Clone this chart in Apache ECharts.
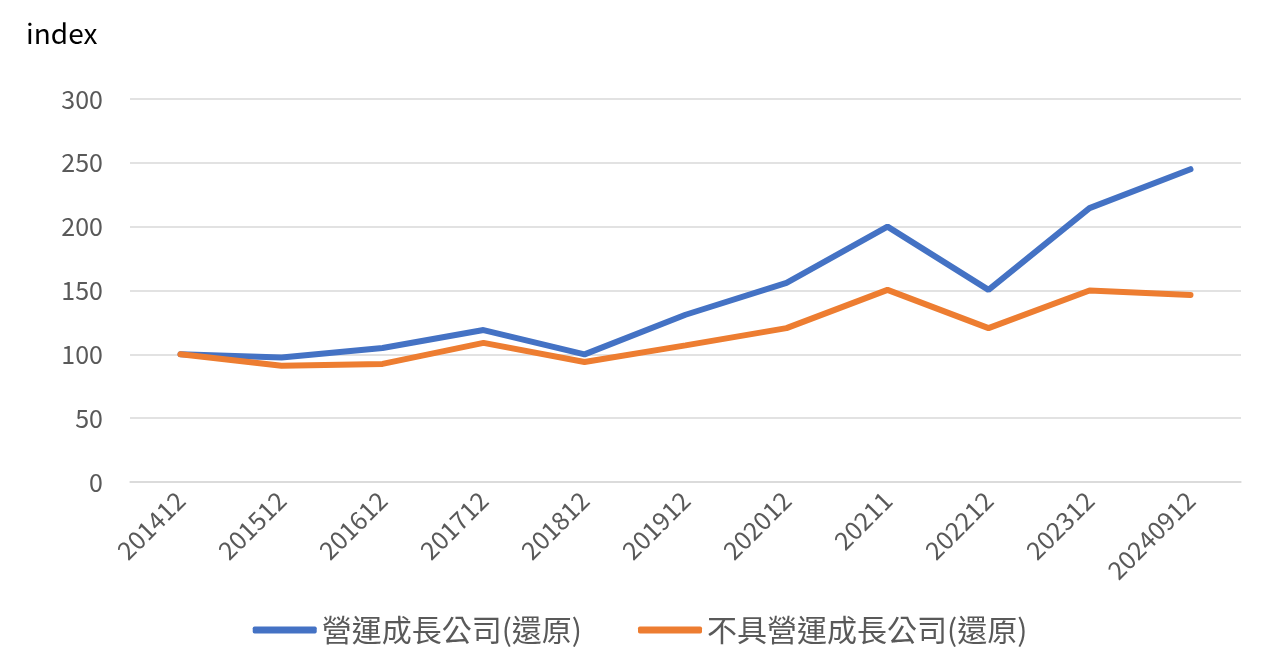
<!DOCTYPE html>
<html><head><meta charset="utf-8">
<script src="https://cdn.jsdelivr.net/npm/echarts@6/dist/echarts.min.js"></script>
<style>html,body{margin:0;padding:0;background:#fff}#c{width:1280px;height:672px}</style>
</head><body><div id="c"></div>
<script>
const categories = ['201412','201512','201612','201712','201812','201912','202012','20211','202212','202312','20240912'];
const growthName = '營運成長公司(還原)';
const nonGrowthName = '不具營運成長公司(還原)';
const growthValues = [100, 97.5, 105, 119, 100, 131, 156, 200, 150.5, 214.5, 245];
const nonGrowthValues = [100, 91, 92.5, 109, 94, 107, 120.5, 150.5, 120.5, 150, 146.5];
const yTicks = {min: 0, max: 300, interval: 50};

const chart = echarts.init(document.getElementById('c'));
const font = '"Noto Sans CJK TC", "Noto Sans", sans-serif';
chart.setOption({
  animation: false,
  textStyle: {fontFamily: font},
  title: {text: 'index', left: 21, top: 14, textStyle: {fontSize: 28, fontWeight: 'normal', color: '#000', fontFamily: font}},
  grid: {left: 130, right: 39, top: 99, bottom: 190},
  legend: {
    bottom: 22, left: 'center', itemGap: 56, itemWidth: 64, itemHeight: 7,
    icon: 'roundRect',
    textStyle: {fontSize: 30, color: '#595959', fontFamily: font},
    data: [growthName, nonGrowthName]
  },
  xAxis: {
    type: 'category', data: categories, boundaryGap: true,
    axisLine: {show: true, lineStyle: {color: '#D9D9D9', width: 1.5}},
    axisTick: {show: false},
    axisLabel: {rotate: 45, fontSize: 25, color: '#595959', margin: 14, interval: 0, fontFamily: font}
  },
  yAxis: {
    type: 'value', min: yTicks.min, max: yTicks.max, interval: yTicks.interval,
    axisLine: {show: false}, axisTick: {show: false},
    axisLabel: {fontSize: 25, color: '#595959', margin: 27, fontFamily: font},
    splitLine: {lineStyle: {color: '#D9D9D9', width: 1.5}}
  },
  series: [
    {name: growthName, type: 'line', data: growthValues, symbol: 'none', lineStyle: {width: 6, color: '#4472C4', cap: 'round'}, itemStyle: {color: '#4472C4'}},
    {name: nonGrowthName, type: 'line', data: nonGrowthValues, symbol: 'none', lineStyle: {width: 6, color: '#ED7D31', cap: 'round'}, itemStyle: {color: '#ED7D31'}}
  ]
});
</script></body></html>
